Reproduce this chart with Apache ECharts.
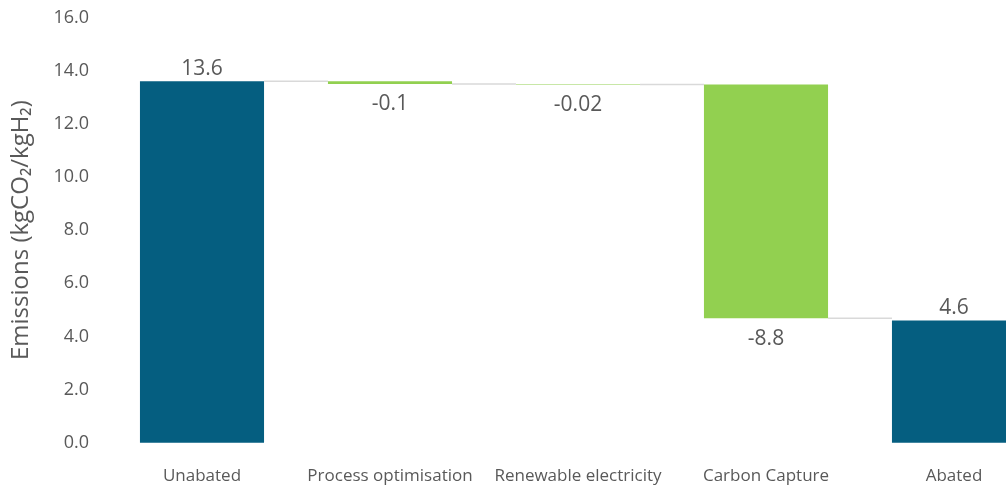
<!DOCTYPE html>
<html>
<head>
<meta charset="utf-8">
<script src="https://cdn.jsdelivr.net/npm/echarts@6/dist/echarts.min.js"></script>
<style>
  html, body { margin: 0; padding: 0; background: #fff; overflow: hidden; }
  /* the last column runs past the right edge of the window */
  #chart { width: 1048px; height: 488px; }
</style>
</head>
<body>
<div id="chart"></div>
<script>
// Emissions waterfall: unabated total, reductions per measure, abated total
const categories = ['Unabated', 'Process optimisation', 'Renewable electricity', 'Carbon Capture', 'Abated'];
const values = [13.6, -0.1, -0.02, -8.8, 4.6];
const valueLabels = ['13.6', '-0.1', '-0.02', '-8.8', '4.6'];
const isTotal = [true, false, false, false, true];
const yTicks = [0, 2, 4, 6, 8, 10, 12, 14, 16];

const TOTAL_COLOR = '#055e80';
const STEP_COLOR = '#92d050';
const TEXT_COLOR = '#595959';
const FONT = '"Open Sans", "Noto Sans", sans-serif';
const BAR_FRACTION = 0.66;

// Build invisible bases, visible heights and the running level after each bar
const bases = [], heights = [], levels = [];
let running = 0;
values.forEach((v, i) => {
  if (isTotal[i]) {
    bases.push(0);
    heights.push(v);
    running = v;
  } else {
    bases.push(Math.min(running, running + v));
    heights.push(Math.abs(v));
    running = running + v;
  }
  levels.push(running);
});

const visibleData = heights.map((h, i) => ({
  value: h,
  itemStyle: { color: isTotal[i] ? TOTAL_COLOR : STEP_COLOR },
  label: {
    position: values[i] >= 0 ? 'top' : 'bottom',
    distance: values[i] >= 0 ? 2 : 10
  }
}));

// Connector segments: from the right edge of one bar to the left edge of the next
const connectorData = levels.slice(0, -1).map((lv, i) => [i, lv]);

const chart = echarts.init(document.getElementById('chart'), null, { renderer: 'canvas' });
chart.setOption({
  animation: false,
  textStyle: { fontFamily: FONT },
  grid: { left: 108, right: 0, top: 17.5, bottom: 45.3, containLabel: false },
  xAxis: {
    type: 'category',
    data: categories,
    axisLine: { show: false },
    axisTick: { show: false },
    axisLabel: { color: TEXT_COLOR, fontSize: 17, margin: 25, fontFamily: FONT, interval: 0 }
  },
  yAxis: {
    type: 'value',
    min: yTicks[0],
    max: yTicks[yTicks.length - 1],
    interval: 2,
    name: 'Emissions (kgCO\u2082/kgH\u2082)',
    nameLocation: 'middle',
    nameGap: 75,
    nameTextStyle: { color: TEXT_COLOR, fontSize: 24, fontFamily: FONT },
    axisLine: { show: false },
    axisTick: { show: false },
    splitLine: { show: false },
    axisLabel: {
      color: TEXT_COLOR, fontSize: 18, margin: 19, fontFamily: FONT,
      padding: [5, 0, 0, 0],
      formatter: v => v.toFixed(1)
    }
  },
  series: [
    {
      type: 'bar',
      stack: 'wf',
      data: bases,
      itemStyle: { color: 'transparent' },
      emphasis: { disabled: true },
      barCategoryGap: '34%',
      silent: true
    },
    {
      type: 'bar',
      stack: 'wf',
      data: visibleData,
      barCategoryGap: '34%',
      label: {
        show: true,
        color: TEXT_COLOR,
        fontSize: 21,
        fontFamily: FONT,
        formatter: p => valueLabels[p.dataIndex]
      }
    },
    {
      type: 'custom',
      data: connectorData,
      silent: true,
      z: 1,
      renderItem: (params, api) => {
        const i = api.value(0);
        const lv = api.value(1);
        const halfBar = api.size([1, 0])[0] * BAR_FRACTION / 2;
        const p1 = api.coord([i, lv]);
        const p2 = api.coord([i + 1, lv]);
        return {
          type: 'line',
          shape: { x1: p1[0] + halfBar, y1: p1[1], x2: p2[0] - halfBar, y2: p2[1] },
          style: { stroke: '#d9d9d9', lineWidth: 1.5 }
        };
      }
    }
  ]
});
</script>
</body>
</html>
